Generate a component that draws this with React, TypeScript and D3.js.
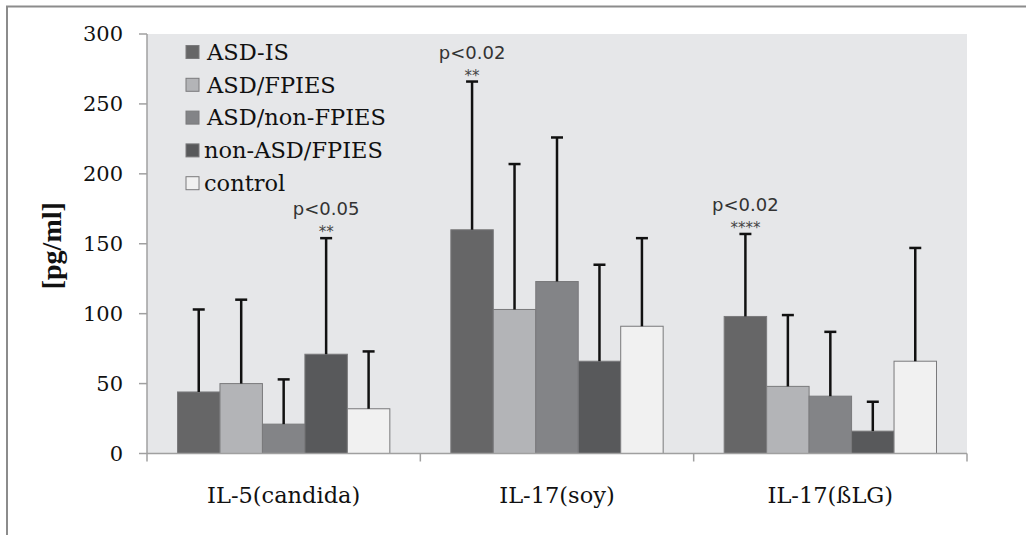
import React, { useEffect, useRef } from 'react';
import * as d3 from 'd3';

const categories = ['IL-5(candida)', 'IL-17(soy)', 'IL-17(ßLG)'];
const groups = ['ASD-IS', 'ASD/FPIES', 'ASD/non-FPIES', 'non-ASD/FPIES', 'control'];
const groupColors = ['#666667', '#b3b4b7', '#838487', '#58595b', '#f1f1f1'];

// mean values per group, one array per category
const candidaMeans = [44, 50, 21, 71, 32];
const soyMeans = [160, 103, 123, 66, 91];
const blgMeans = [98, 48, 41, 16, 66];

// upper end of the error bars
const candidaUpper = [103, 110, 53, 154, 73];
const soyUpper = [266, 207, 226, 135, 154];
const blgUpper = [157, 99, 87, 37, 147];

const yTicks = [0, 50, 100, 150, 200, 250, 300];

// significance notes: category index, group index, p text, stars
const notes = [
  { cat: 0, grp: 3, p: 'p<0.05', stars: '**' },
  { cat: 1, grp: 0, p: 'p<0.02', stars: '**' },
  { cat: 2, grp: 0, p: 'p<0.02', stars: '****' },
];

const WIDTH = 1026;
const HEIGHT = 535;
const MARGIN = { top: 34, right: 59, bottom: 81.5, left: 147 };
const SERIF = 'DejaVu Serif';

const App = () => {
  const svgRef = useRef<SVGSVGElement | null>(null);

  useEffect(() => {
    if (!svgRef.current) return;
    const svg = d3.select(svgRef.current);
    svg.selectAll('*').remove();

    const chartWidth = WIDTH - MARGIN.left - MARGIN.right;
    const chartHeight = HEIGHT - MARGIN.top - MARGIN.bottom;

    const means = [candidaMeans, soyMeans, blgMeans];
    const uppers = [candidaUpper, soyUpper, blgUpper];
    const rows = categories.map((c, i) => ({ cat: c, means: means[i], upper: uppers[i] }));

    const x0 = d3.scaleBand().domain(categories).range([0, chartWidth]).paddingInner(0).paddingOuter(0);
    // ~ excel gap width of 143%
    const innerPad = 30.5 / x0.bandwidth();
    const x1 = d3.scaleBand()
      .domain(groups)
      .range([x0.bandwidth() * innerPad, x0.bandwidth() * (1 - innerPad)])
      .padding(0);
    const y = d3.scaleLinear().domain([0, 300]).range([chartHeight, 0]);

    // outer frame (left + top only visible)
    svg.append('path')
      .attr('d', `M7,${HEIGHT} L7,6.5 L${WIDTH},6.5`)
      .attr('fill', 'none')
      .attr('stroke', '#8c8c8c')
      .attr('stroke-width', 2);

    const g = svg.append('g').attr('transform', `translate(${MARGIN.left}, ${MARGIN.top})`);

    g.append('rect')
      .attr('x', 0)
      .attr('y', 0)
      .attr('width', chartWidth)
      .attr('height', chartHeight)
      .attr('fill', '#e6e7e9');

    // bars
    const catG = g.selectAll('.cat')
      .data(rows)
      .enter()
      .append('g')
      .attr('class', 'cat')
      .attr('transform', d => `translate(${x0(d.cat)}, 0)`);

    catG.selectAll('rect.bar')
      .data(d => d.means.map((v, i) => ({ grp: groups[i], v, up: d.upper[i], i })))
      .enter()
      .append('rect')
      .attr('class', 'bar')
      .attr('x', d => x1(d.grp)!)
      .attr('y', d => y(d.v))
      .attr('width', x1.bandwidth())
      .attr('height', d => chartHeight - y(d.v))
      .attr('fill', d => groupColors[d.i])
      .attr('stroke', '#7a7a7c')
      .attr('stroke-width', 1);

    // error bars (upper only)
    const errG = catG.selectAll('g.err')
      .data(d => d.means.map((v, i) => ({ grp: groups[i], v, up: d.upper[i] })))
      .enter()
      .append('g')
      .attr('class', 'err')
      .attr('transform', d => `translate(${x1(d.grp)! + x1.bandwidth() / 2}, 0)`);

    errG.append('line')
      .attr('x1', 0).attr('x2', 0)
      .attr('y1', d => y(d.v))
      .attr('y2', d => y(d.up))
      .attr('stroke', '#111')
      .attr('stroke-width', 2.5);

    errG.append('line')
      .attr('x1', -6).attr('x2', 6)
      .attr('y1', d => y(d.up))
      .attr('y2', d => y(d.up))
      .attr('stroke', '#111')
      .attr('stroke-width', 2.5);

    // axes
    const axisColor = '#a0a0a0';
    g.append('line')
      .attr('x1', 0).attr('x2', 0).attr('y1', 0).attr('y2', chartHeight)
      .attr('stroke', axisColor).attr('stroke-width', 1.5);
    g.selectAll('.ytick')
      .data(yTicks)
      .enter()
      .append('line')
      .attr('x1', -8).attr('x2', 0)
      .attr('y1', d => y(d)).attr('y2', d => y(d))
      .attr('stroke', axisColor).attr('stroke-width', 1.5);
    g.selectAll('.ylab')
      .data(yTicks)
      .enter()
      .append('text')
      .attr('x', -24)
      .attr('y', d => y(d))
      .attr('dy', '0.35em')
      .attr('text-anchor', 'end')
      .attr('font-family', SERIF)
      .attr('font-size', '21px')
      .attr('fill', '#111')
      .text(d => d);

    g.append('line')
      .attr('x1', 0).attr('x2', chartWidth).attr('y1', chartHeight).attr('y2', chartHeight)
      .attr('stroke', axisColor).attr('stroke-width', 1.5);
    const xTickPos = [...categories.map(c => x0(c)!), chartWidth];
    g.selectAll('.xtick')
      .data(xTickPos)
      .enter()
      .append('line')
      .attr('x1', d => d).attr('x2', d => d)
      .attr('y1', chartHeight).attr('y2', chartHeight + 8)
      .attr('stroke', axisColor).attr('stroke-width', 1.5);

    g.selectAll('.xlab')
      .data(categories)
      .enter()
      .append('text')
      .attr('x', d => x0(d)! + x0.bandwidth() / 2)
      .attr('y', chartHeight + 49)
      .attr('text-anchor', 'middle')
      .attr('font-family', SERIF)
      .attr('font-size', '22.5px')
      .attr('fill', '#111')
      .text(d => d);

    // y axis title
    g.append('text')
      .attr('transform', 'rotate(-90)')
      .attr('x', -(y(150) + 2))
      .attr('y', -86)
      .attr('text-anchor', 'middle')
      .attr('font-family', 'Liberation Serif')
      .attr('font-weight', 'bold')
      .attr('font-size', '28px')
      .attr('fill', '#111')
      .text('[pg/ml]');

    // significance annotations
    notes.forEach(n => {
      const cx = x0(categories[n.cat])! + x1(groups[n.grp])! + x1.bandwidth() / 2;
      const top = y(uppers[n.cat][n.grp]);
      g.append('text')
        .attr('x', cx)
        .attr('y', top - 1)
        .attr('text-anchor', 'middle')
        .attr('font-family', 'DejaVu Sans')
        .attr('font-size', '15px')
        .attr('fill', '#444')
        .text(n.stars);
      g.append('text')
        .attr('x', cx)
        .attr('y', top - 23)
        .attr('text-anchor', 'middle')
        .attr('font-family', 'DejaVu Sans')
        .attr('font-size', '18px')
        .attr('fill', '#333')
        .text(n.p);
    });

    // legend
    const legend = g.append('g').attr('transform', 'translate(39, 18)');
    groups.forEach((grp, i) => {
      const row = legend.append('g').attr('transform', `translate(0, ${i * 32.8})`);
      row.append('rect')
        .attr('x', 0).attr('y', -6.5)
        .attr('width', 13).attr('height', 13)
        .attr('fill', groupColors[i])
        .attr('stroke', '#7a7a7c');
      row.append('text')
        .attr('x', i >= 3 ? 18 : 21)
        .attr('y', 0)
        .attr('dy', '0.35em')
        .attr('font-family', SERIF)
        .attr('font-size', '22.5px')
        .attr('fill', '#111')
        .text(grp);
    });
  }, []);

  return (
    <div style={{ position: 'absolute', left: 0, top: 0 }}>
      <svg ref={svgRef} width={WIDTH} height={HEIGHT} style={{ display: 'block', background: '#fff' }} />
    </div>
  );
};

export default App;
